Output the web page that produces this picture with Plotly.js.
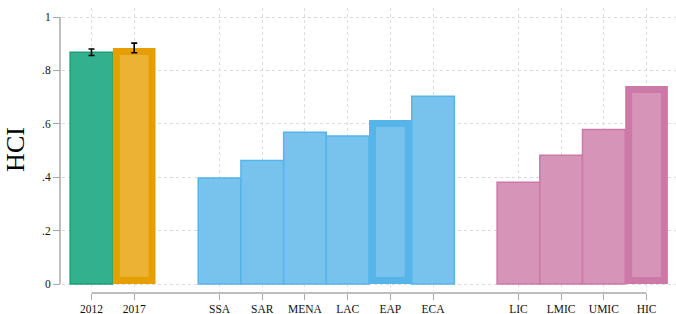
<!DOCTYPE html>
<html>
<head>
<meta charset="utf-8">
<script src="https://cdn.plot.ly/plotly-3.0.1.min.js"></script>
<style>html,body{margin:0;padding:0;background:#fff;}#chart{width:676px;height:314px;}</style>
</head>
<body>
<div id="chart"></div>
<script>
// ---- data ----
const periods = ['2012', '2017'];
const hciPeriods = [0.868, 0.884];
const errPeriods = [0.012, 0.018];

const regions = ['SSA', 'SAR', 'MENA', 'LAC', 'EAP', 'ECA'];
const hciRegions = [0.397, 0.463, 0.568, 0.554, 0.614, 0.703];

const incomes = ['LIC', 'LMIC', 'UMIC', 'HIC'];
const hciIncomes = [0.381, 0.482, 0.579, 0.742];

const highlighted = ['2017', 'EAP', 'HIC'];

const yTickVals = [0, 0.2, 0.4, 0.6, 0.8, 1];
const yTickText = ['0', '.2', '.4', '.6', '.8', '1'];

// ---- layout constants ----
const W = 676, H = 314;
const M = {l: 60, r: 0, t: 8, b: 21};
const plotW = W - M.l - M.r, plotH = H - M.t - M.b;
const xDomain = [2 / plotW, 1];
const yDomain = [2 / plotH, 1];
const xRange = [-0.691, 13.69];
const pxBottom = H - M.b - 2, pxTop = M.t;     // plot-area pixel rows
const px0 = 284, px1 = 17;                      // pixel rows of 0 and 1
const unitY = (px0 - px1);
const yRange = [-(pxBottom - px0) / unitY, 1 + (px1 - pxTop) / unitY];
const unitPx = (plotW * (xDomain[1] - xDomain[0])) / (xRange[1] - xRange[0]);
const pxPerY = (plotH * (yDomain[1] - yDomain[0])) / (yRange[1] - yRange[0]);

// positions with a one-slot gap between groups
let pos = 0;
function positions(arr) { const p = arr.map((_, i) => pos + i); pos += arr.length + 1; return p; }
const xPeriods = positions(periods);
const xRegions = positions(regions);
const xIncomes = positions(incomes);

const thick = 7, thin = 1.5;
const halfThickY = (thick / 2) / pxPerY;
const isHi = l => highlighted.includes(l);
function widths(labels) { return labels.map(l => isHi(l) ? 1 - thick / unitPx : 1); }
function lineW(labels) { return labels.map(l => isHi(l) ? thick : thin); }
// thick outlines drawn inside the bar: shrink the rectangle by half the outline
function bases(labels) { return labels.map(l => isHi(l) ? halfThickY : 0); }
function heights(labels, vals) { return vals.map((v, i) => isHi(labels[i]) ? v - 2 * halfThickY : v); }

const font = '"Liberation Serif", "Times New Roman", Times, serif';

const traces = [
  {
    type: 'bar', x: xPeriods, y: heights(periods, hciPeriods), base: bases(periods), width: widths(periods),
    marker: {color: ['#33b18f', '#ebb233'], line: {color: ['#1a9e77', '#e69f00'], width: lineW(periods)}}
  },
  {
    type: 'bar', x: xRegions, y: heights(regions, hciRegions), base: bases(regions), width: widths(regions),
    marker: {color: '#78c3ed', line: {color: '#56b4e9', width: lineW(regions)}}
  },
  {
    type: 'bar', x: xIncomes, y: heights(incomes, hciIncomes), base: bases(incomes), width: widths(incomes),
    marker: {color: '#d694b9', line: {color: '#cc79a7', width: lineW(incomes)}}
  },
  {
    type: 'scatter', mode: 'markers', x: xPeriods, y: hciPeriods,
    marker: {size: 1, color: 'rgba(0,0,0,0)'},
    error_y: {type: 'data', array: errPeriods, visible: true, color: '#000', thickness: 1.6, width: 3}
  }
];

const allX = xPeriods.concat(xRegions, xIncomes);
const allLabels = periods.concat(regions, incomes);

function xPaper(v) { return xDomain[0] + (v - xRange[0]) / (xRange[1] - xRange[0]) * (xDomain[1] - xDomain[0]); }
function yPaper(v) { return yDomain[0] + (v - yRange[0]) / (yRange[1] - yRange[0]) * (yDomain[1] - yDomain[0]); }

const axisCol = '#a8a8a8';
const shapes = [
  {type: 'line', xref: 'paper', yref: 'paper', x0: xPaper(allX[0]), x1: xPaper(allX[allX.length - 1]), y0: 0, y1: 0,
   line: {color: axisCol, width: 1.5}},
  {type: 'line', xref: 'paper', yref: 'paper', x0: 0, x1: 0, y0: yPaper(yTickVals[0]), y1: yPaper(yTickVals[yTickVals.length - 1]),
   line: {color: axisCol, width: 1.5}}
];

const layout = {
  width: W, height: H,
  margin: M,
  paper_bgcolor: '#fff', plot_bgcolor: '#fff',
  showlegend: false,
  barmode: 'overlay',
  bargap: 0,
  font: {family: font, color: '#111', size: 11},
  xaxis: {
    domain: xDomain, range: xRange, anchor: 'free', position: 0,
    tickmode: 'array', tickvals: allX, ticktext: allLabels,
    showline: false, zeroline: false,
    ticks: 'outside', ticklen: 6, tickwidth: 1, tickcolor: axisCol,
    ticklabelstandoff: -1,
    showgrid: true, gridcolor: '#dcdcdc', gridwidth: 1, griddash: 'dot',
    tickfont: {family: font, size: 11.5, color: '#111'}
  },
  yaxis: {
    domain: yDomain, range: yRange, anchor: 'free', position: 0,
    tickmode: 'array', tickvals: yTickVals, ticktext: yTickText,
    showline: false, zeroline: false,
    ticks: 'outside', ticklen: 7, tickwidth: 1, tickcolor: axisCol,
    showgrid: true, gridcolor: '#dcdcdc', gridwidth: 1, griddash: 'dot',
    tickfont: {family: font, size: 11.5, color: '#111'},
    title: {text: 'HCI', font: {family: font, size: 26, color: '#000'}, standoff: 8}
  },
  shapes: shapes
};

Plotly.newPlot('chart', traces, layout, {displayModeBar: false, staticPlot: true});
</script>
</body>
</html>
